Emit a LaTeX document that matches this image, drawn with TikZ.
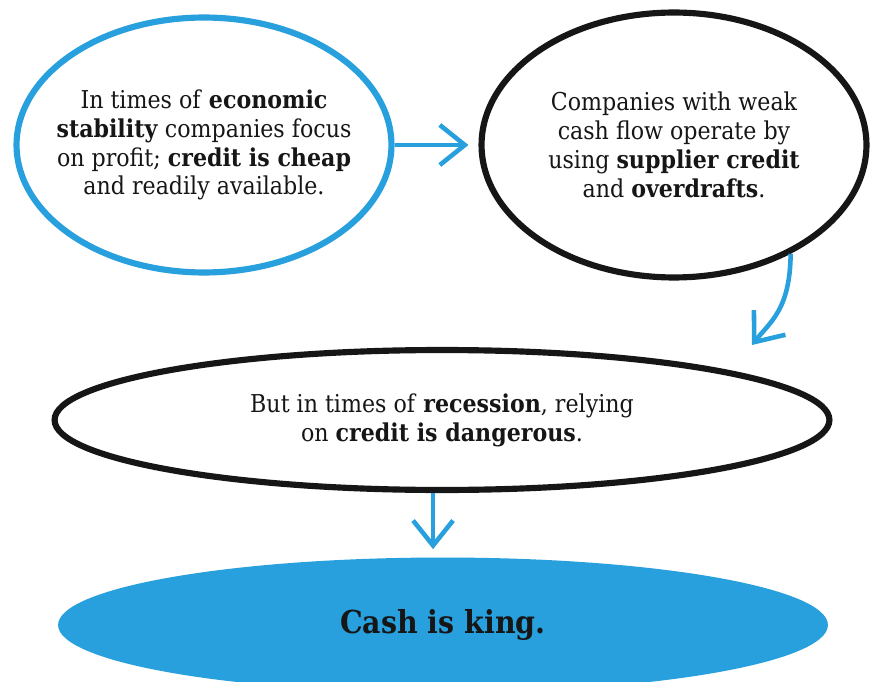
\documentclass[tikz,border=0pt]{standalone}
\usepackage{fontspec}
\setmainfont{DejaVu Serif}[FakeStretch=0.9]
\usetikzlibrary{shapes.geometric,arrows.meta,positioning}
\definecolor{cashblue}{RGB}{40,160,221}
\definecolor{inkcol}{RGB}{22,22,22}

\begin{document}
\begin{tikzpicture}[
    x=0.02cm, y=-0.02cm,
    >={Straight Barb[length=5mm,width=8mm]},
    bubble/.style={ellipse, draw, line width=3.5pt, inner sep=0pt, fill=white},
    arrow/.style={->, cashblue, line width=2.6pt},
    txt/.style={align=center, text=inkcol, font=\fontsize{14}{16.4}\selectfont},
]
\useasboundingbox (0,0) rectangle (872,682);

\node[bubble, draw=cashblue, minimum width=7.5cm, minimum height=5.1cm] (A) at (204,145) {};
\node[bubble, draw=inkcol, minimum width=7.7cm, minimum height=5.3cm] (B) at (674,145) {};
\node[bubble, draw=inkcol, minimum width=15.5cm, minimum height=2.8cm] (C) at (442,420) {};
\node[ellipse, fill=cashblue, minimum width=15.4cm, minimum height=2.7cm] (D) at (443,625) {};

\node[txt] (tA) at (A.center) {In times of \textbf{economic}\\ \textbf{stability} companies focus\\ on profit; \textbf{credit is cheap}\\ and readily available.};
\node[txt] (tB) at (B.center) {Companies with weak\\ cash flow operate by\\ using \textbf{supplier credit}\\ and \textbf{overdrafts}.};
\node[txt] (tC) at (C.center) {But in times of \textbf{recession}, relying\\ on \textbf{credit is dangerous}.};
\node[text=inkcol, font=\bfseries\fontsize{18}{22}\selectfont] (tD) at (D.center) {Cash is king.};

\coordinate (bend) at (752,345);
\draw[arrow, shorten >=0.2cm] (A) -- (B);
\draw[arrow] (B.-43) .. controls (790,310) and (770,322) .. (bend);
\draw[arrow, shorten >=0.16cm] (C.-97) -- (C.-97 |- D.north);
\end{tikzpicture}
\end{document}
